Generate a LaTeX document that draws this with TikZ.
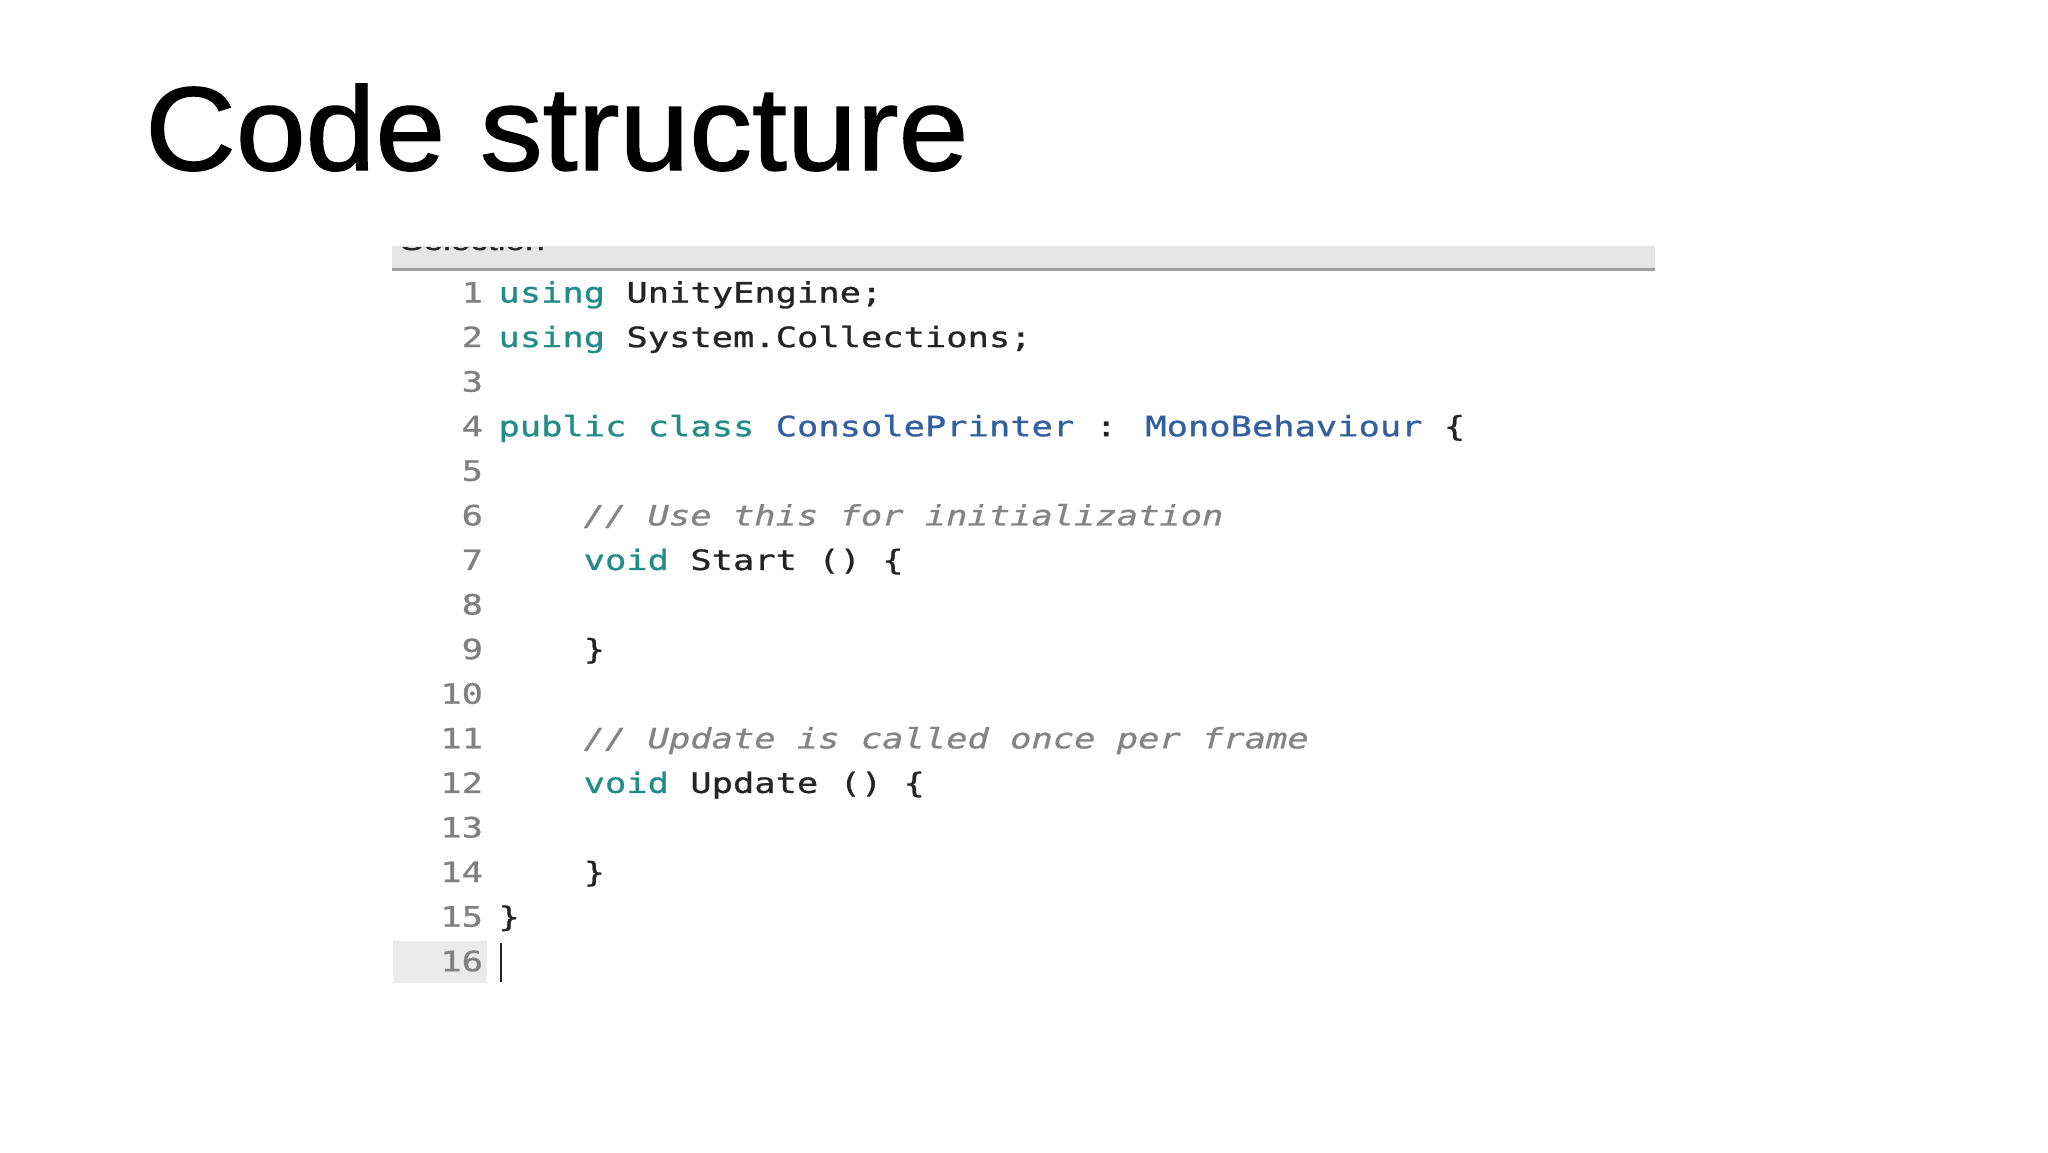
\documentclass[tikz,border=0pt]{standalone}
\usepackage{fontspec}
\newfontfamily\titlefont[FakeStretch=1.055,FakeBold=1.2]{Liberation Sans}
\newfontfamily\codefont[FakeStretch=1.265,FakeBold=0.9,WordSpace={1,0,0}]{DejaVu Sans Mono}
\newfontfamily\tabfont[FakeStretch=1.3,FakeBold=1.5]{Liberation Sans}
\definecolor{kw}{RGB}{34,140,136}
\definecolor{typ}{RGB}{50,95,160}
\definecolor{cmt}{RGB}{132,132,132}
\definecolor{plain}{RGB}{36,36,36}
\definecolor{lnumc}{RGB}{128,128,128}
\definecolor{barfill}{RGB}{230,230,230}
\definecolor{barline}{RGB}{160,160,160}
\definecolor{curline}{RGB}{235,235,235}
\begin{document}
\begin{tikzpicture}[x=1pt,y=-1pt,
  code/.style={anchor=base west,inner sep=0pt,outer sep=0pt,font=\codefont\fontsize{28}{44.6}\selectfont,text=plain},
  cmtline/.style={code,text=cmt,font=\codefont\itshape\fontsize{28}{44.6}\selectfont},
  lnum/.style={anchor=base east,inner sep=0pt,outer sep=0pt,font=\codefont\fontsize{28}{44.6}\selectfont,text=lnumc}]
\useasboundingbox[fill=white] (0,0) rectangle (2048,1152);
% title
\node[anchor=base west,inner sep=0pt,font=\titlefont\fontsize{119}{140}\selectfont] (title) at (145,170) {Code structure};
% header bar of the editor
\fill[barfill] (392,246) rectangle (1655,268);
\fill[barline] (392,268) rectangle (1655,270.5);
% tab title, cut off by the top edge of the screenshot
\node[anchor=base west,inner sep=0pt,font=\tabfont\fontsize{27}{30}\selectfont,text=plain] (tab) at (400,250) {Selection};
\fill[white] (392,215) rectangle (700,246);
\fill[barfill] (392,246) rectangle (700,247.2);
% current line highlight
\fill[curline] (393,941) rectangle (487,983);
% line numbers
\foreach \i in {1,...,16}{
  \pgfmathsetmacro\yy{302.5+(\i-1)*44.58}
  \node[lnum] (ln\i) at (483,\yy) {\i};
}
% code
\node[code] (c1) at (498.5,302.5) {\textcolor{kw}{using} UnityEngine;};
\node[code] (c2) at (498.5,347.08) {\textcolor{kw}{using} System.Collections;};
\node[code] (c4) at (498.5,436.24) {\textcolor{kw}{public class} \textcolor{typ}{ConsolePrinter} : \textcolor{typ}{MonoBehaviour} \{};
\node[cmtline] (c6) at (583.7,525.4) {// Use this for initialization};
\node[code] (c7) at (583.7,569.98) {\textcolor{kw}{void} Start () \{};
\node[code] (c9) at (583.7,659.14) {\}};
\node[cmtline] (c11) at (583.7,748.3) {// Update is called once per frame};
\node[code] (c12) at (583.7,792.88) {\textcolor{kw}{void} Update () \{};
\node[code] (c14) at (583.7,882.04) {\}};
\node[code] (c15) at (498.5,926.62) {\}};
% cursor
\fill[plain] (500,943) rectangle (502.2,982);
\end{tikzpicture}
\end{document}
